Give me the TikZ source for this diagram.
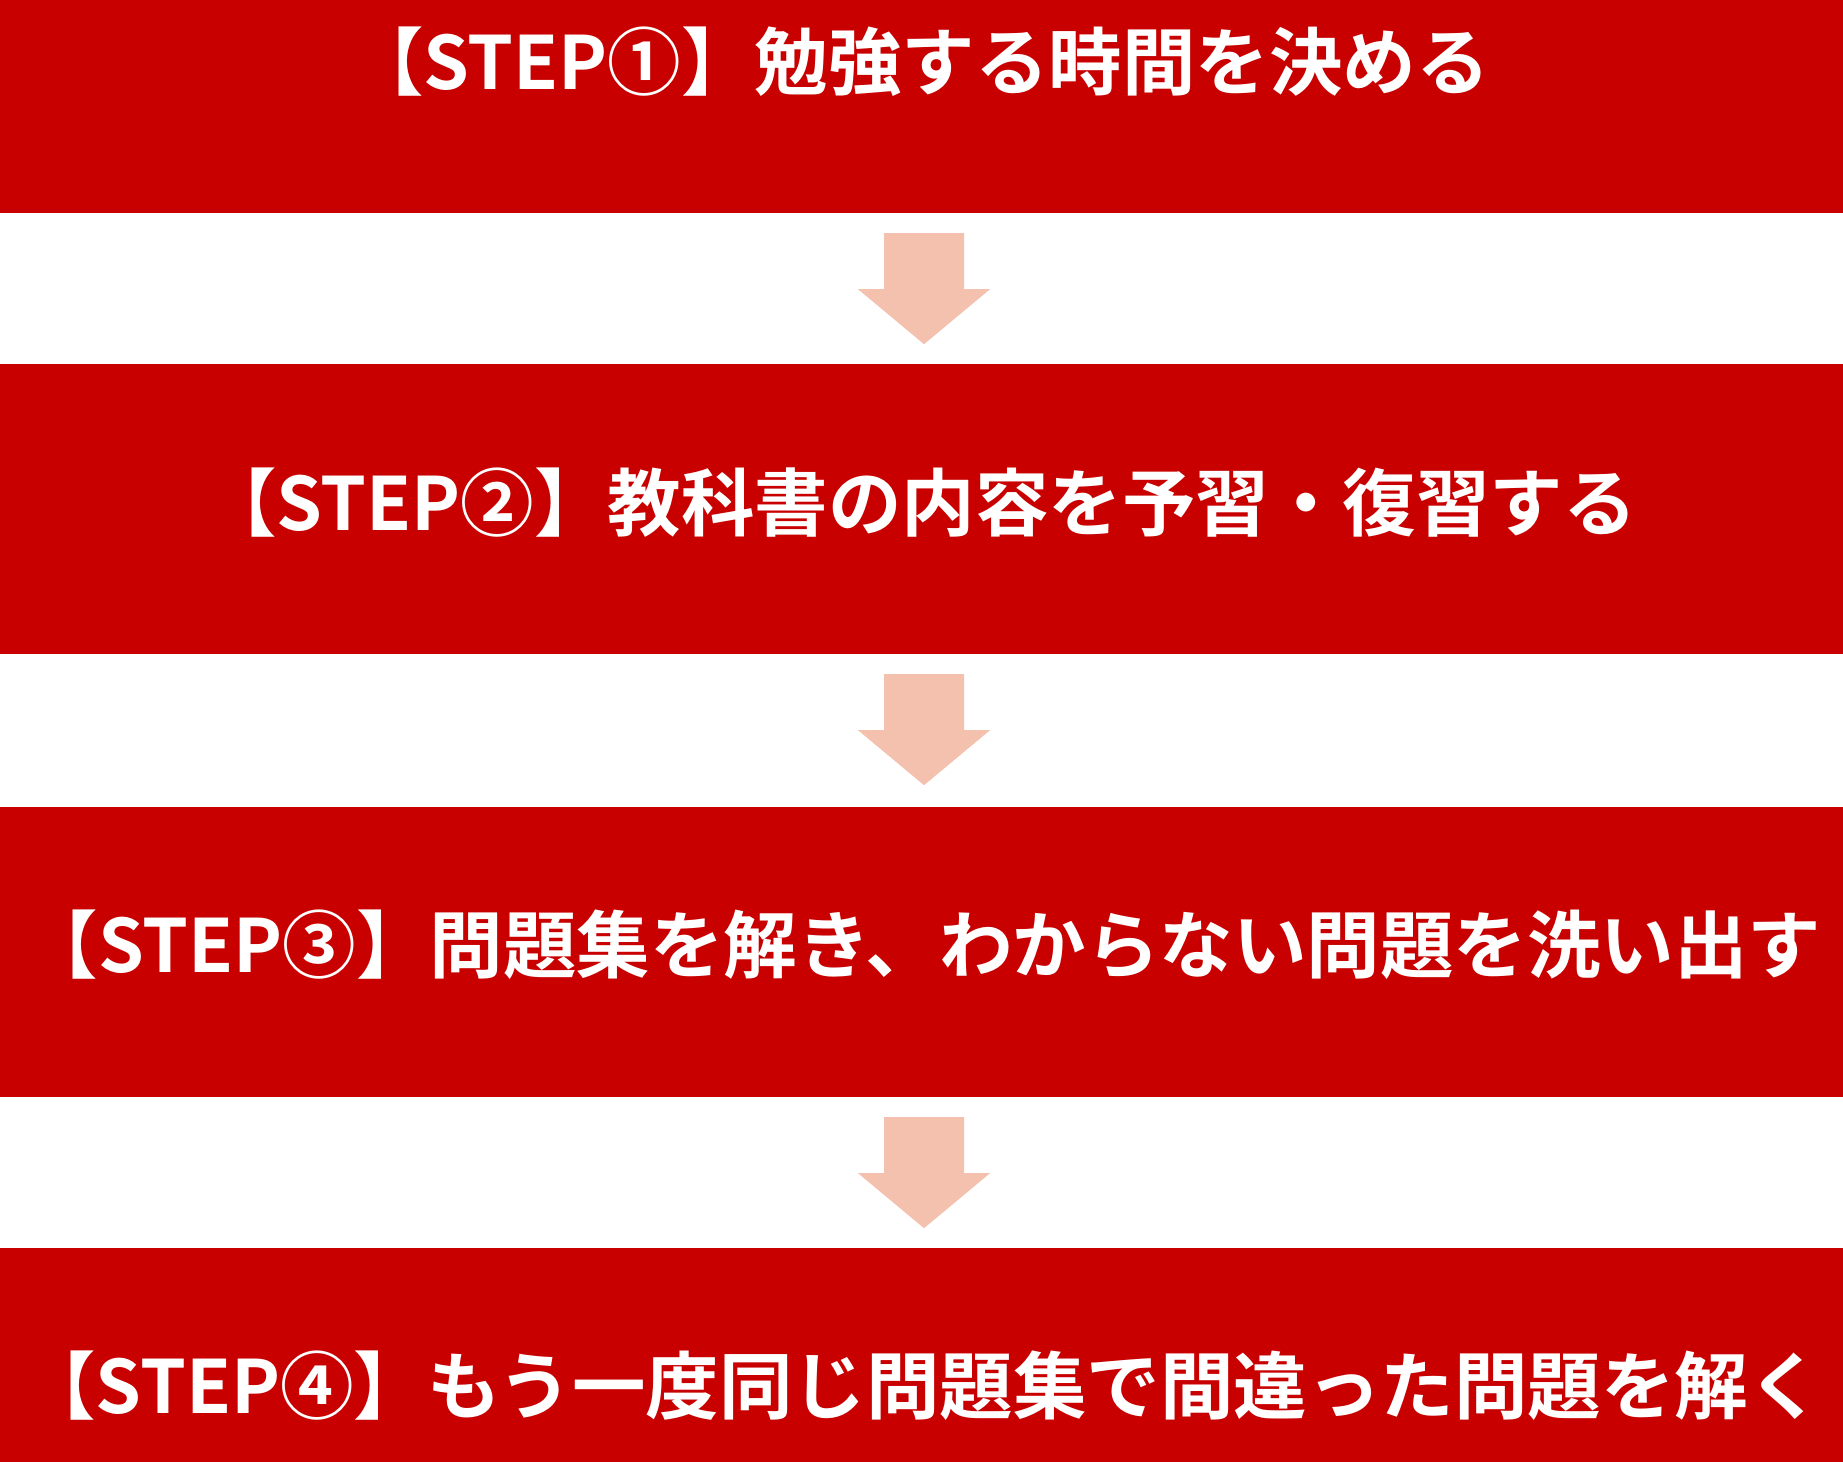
\documentclass[tikz,border=0pt]{standalone}
\usepackage{fontspec}
\newfontfamily\jp{Noto Sans CJK JP}[BoldFont={* Bold}]
\definecolor{stepred}{HTML}{C80000}
\definecolor{arrowpink}{HTML}{F4C1AF}
\begin{document}
\begin{tikzpicture}[x=1pt,y=-1pt,
  stepbox/.style={fill=stepred, draw=none, minimum width=1843pt, minimum height=290pt, inner sep=0pt},
  steptext/.style={text=white, font=\jp\bfseries\fontsize{73.5}{80}\selectfont, inner sep=0pt},
  flowarrow/.style={fill=arrowpink, draw=none}]
\useasboundingbox (0,0) rectangle (1843,1461);
\node[stepbox] (b1) at (921.5,68) {};
\node[stepbox] (b2) at (921.5,509) {};
\node[stepbox] (b3) at (921.5,952) {};
\node[stepbox] (b4) at (921.5,1393) {};
\node[steptext] (t1) at (920,61.5) {【STEP①】勉強する時間を決める};
\node[steptext] (t2) at (920,502.5) {【STEP②】教科書の内容を予習・復習する};
\node[steptext] (t3) at (923,944.5) {【STEP③】問題集を解き、わからない問題を洗い出す};
\node[steptext] (t4) at (922,1386) {【STEP④】もう一度同じ問題集で間違った問題を解く};
\foreach \i in {1,2,3}{
  \path (b\i.south) ++(2.5,0) coordinate (a\i);
  \fill[flowarrow] (a\i) ++(-40,20) -- ++(80,0) -- ++(0,56) -- ++(26,0) -- ++(-66,55) -- ++(-66,-55) -- ++(26,0) -- cycle;
}
\end{tikzpicture}
\end{document}
